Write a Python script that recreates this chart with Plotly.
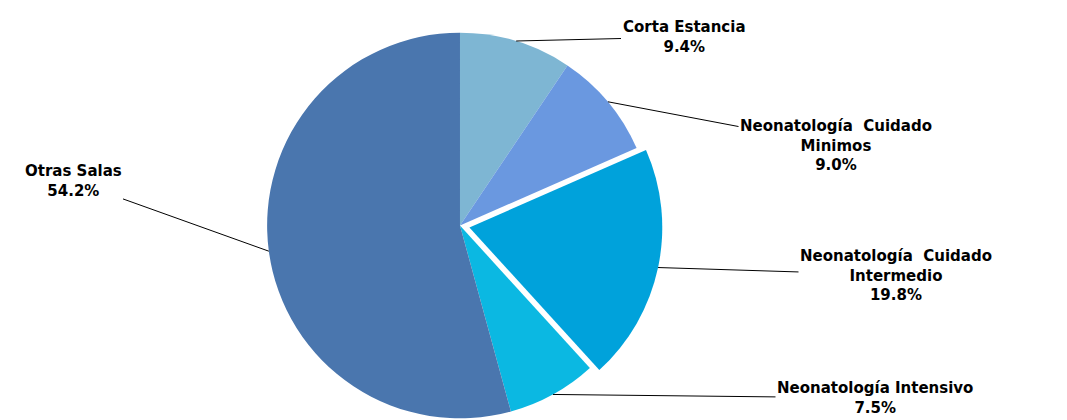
import math

import plotly.graph_objects as go

# Data
labels = [
    "Corta Estancia",
    "Neonatología Cuidado Minimos",
    "Neonatología Cuidado Intermedio",
    "Neonatología Intensivo",
    "Otras Salas",
]
values = [9.4, 9.0, 19.8, 7.5, 54.2]
label_text = [
    "Corta Estancia<br>9.4%",
    "Neonatología\u00a0 Cuidado<br>Minimos<br>9.0%",
    "Neonatología\u00a0 Cuidado<br>Intermedio<br>19.8%",
    "Neonatología Intensivo<br>7.5%",
    "Otras Salas<br>54.2%",
]
colors = ["#7EB6D3", "#6A98E0", "#00A2DB", "#0BB8E2", "#4A76AE"]
pulls = [0, 0, 0.05, 0, 0]

# Where each label block sits (pixels from top-left)
label_pos = [(676, 29), (828, 137), (888, 267), (867, 390), (65, 173)]

W, H = 1067, 420
M_T, M_B, M_L, M_R = 15, 0, 0, 0
plot_w = W - M_L - M_R
plot_h = H - M_T - M_B
dom_x = [0, 0.8472]

fig = go.Figure()
fig.add_trace(go.Pie(
    labels=labels,
    values=values,
    sort=False,
    direction="clockwise",
    rotation=0,
    pull=pulls,
    marker=dict(colors=colors, line=dict(width=0)),
    textinfo="none",
    hoverinfo="label+percent",
    domain=dict(x=dom_x, y=[0, 1]),
    showlegend=False,
))

# Pie geometry as plotly computes it, used to anchor the leader lines
r = min(plot_w * (dom_x[1] - dom_x[0]), plot_h) / (2 + 2 * max(pulls))
cx = M_L + plot_w * (dom_x[0] + dom_x[1]) / 2
cy = M_T + plot_h / 2
total = sum(values)

annotations = []
cum = 0.0
for i, v in enumerate(values):
    mid = (cum + v / 2) / total * 2 * math.pi
    cum += v
    rr = r * (1 + pulls[i])
    px = cx + rr * math.sin(mid)
    py = cy - rr * math.cos(mid)
    tx, ty = label_pos[i]
    annotations.append(dict(
        x=(px - M_L) / plot_w,
        y=1 - (py - M_T) / plot_h,
        xref="paper", yref="paper",
        ax=tx - px, ay=ty - py,
        text="<b>" + label_text[i] + "</b>",
        showarrow=True,
        arrowhead=0,
        arrowwidth=1,
        arrowcolor="#000000",
        align="center",
        font=dict(family="DejaVu Sans, Arial, sans-serif", size=15, color="#000000"),
    ))

fig.update_layout(
    width=W,
    height=H,
    margin=dict(l=M_L, r=M_R, t=M_T, b=M_B),
    paper_bgcolor="#FFFFFF",
    plot_bgcolor="#FFFFFF",
    annotations=annotations,
)

fig.write_html("out.html")
